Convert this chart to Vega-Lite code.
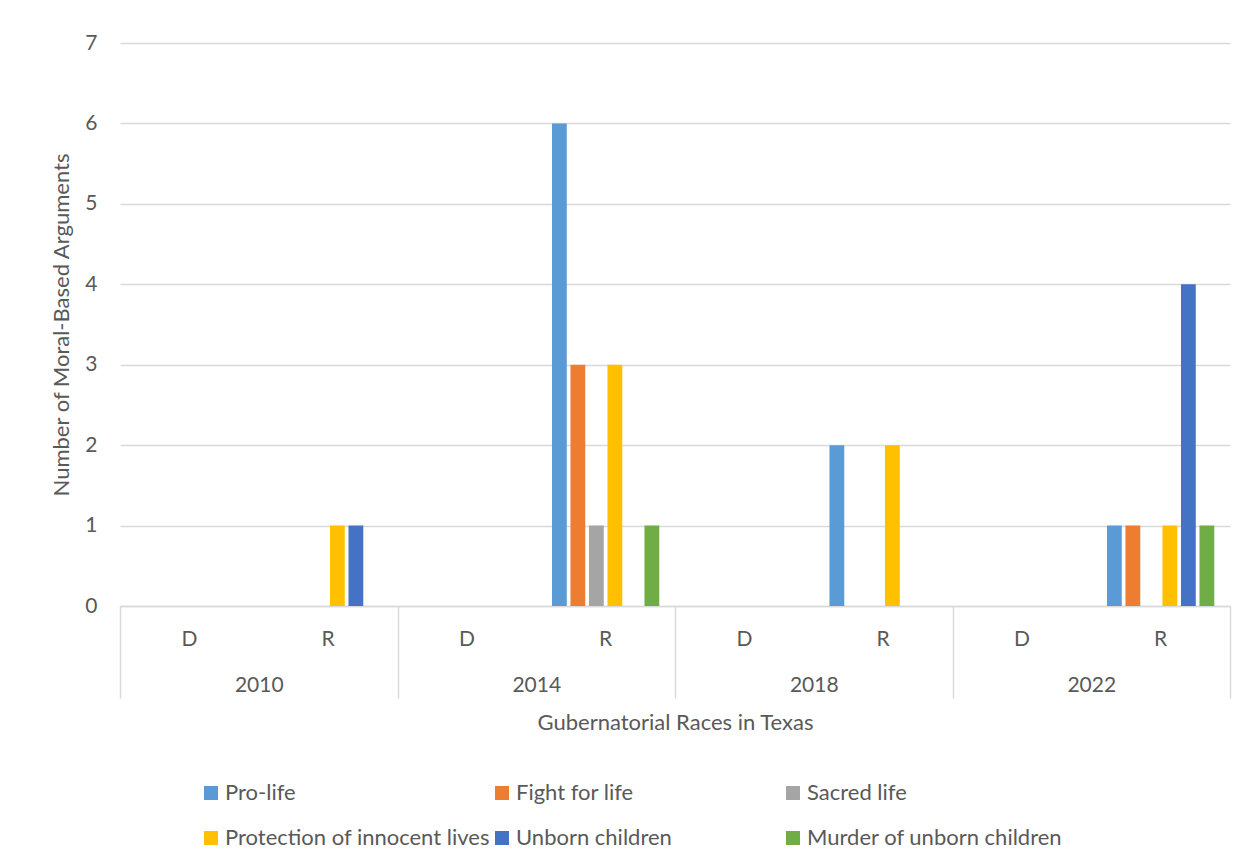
{
  "$schema": "https://vega.github.io/schema/vega-lite/v6.json",
  "autosize": {"type": "none"},
  "width": 1110,
  "height": 563,
  "padding": {"left": 120, "top": 43, "right": 19, "bottom": 257},
  "background": "white",
  "config": {
    "font": "Lato",
    "view": {"stroke": null},
    "axis": {
      "labelFont": "Lato",
      "titleFont": "Lato",
      "labelColor": "#595959",
      "titleColor": "#595959",
      "labelFontSize": 21,
      "titleFontSize": 22,
      "titleFontWeight": "normal",
      "gridColor": "#d9d9d9",
      "domainColor": "#d9d9d9",
      "tickColor": "#d9d9d9"
    },
    "legend": {
      "labelFont": "Lato",
      "labelColor": "#595959",
      "labelFontSize": 22
    }
  },
  "data": {
    "values": [
      {"year": "2010", "party": "R", "race": "2010 R", "series": "Protection of innocent lives", "count": 1},
      {"year": "2010", "party": "R", "race": "2010 R", "series": "Unborn children", "count": 1},
      {"year": "2014", "party": "R", "race": "2014 R", "series": "Pro-life", "count": 6},
      {"year": "2014", "party": "R", "race": "2014 R", "series": "Fight for life", "count": 3},
      {"year": "2014", "party": "R", "race": "2014 R", "series": "Sacred life", "count": 1},
      {"year": "2014", "party": "R", "race": "2014 R", "series": "Protection of innocent lives", "count": 3},
      {"year": "2014", "party": "R", "race": "2014 R", "series": "Murder of unborn children", "count": 1},
      {"year": "2018", "party": "R", "race": "2018 R", "series": "Pro-life", "count": 2},
      {"year": "2018", "party": "R", "race": "2018 R", "series": "Protection of innocent lives", "count": 2},
      {"year": "2022", "party": "R", "race": "2022 R", "series": "Pro-life", "count": 1},
      {"year": "2022", "party": "R", "race": "2022 R", "series": "Fight for life", "count": 1},
      {"year": "2022", "party": "R", "race": "2022 R", "series": "Protection of innocent lives", "count": 1},
      {"year": "2022", "party": "R", "race": "2022 R", "series": "Unborn children", "count": 4},
      {"year": "2022", "party": "R", "race": "2022 R", "series": "Murder of unborn children", "count": 1}
    ]
  },
  "layer": [
    {
      "mark": {"type": "bar"},
      "encoding": {
        "x": {
          "field": "race",
          "type": "nominal",
          "scale": {
            "domain": ["2010 D", "2010 R", "2014 D", "2014 R", "2018 D", "2018 R", "2022 D", "2022 R"],
            "paddingInner": 0,
            "paddingOuter": 0
          },
          "axis": {
            "orient": "bottom",
            "title": null,
            "labelAngle": 0,
            "labelExpr": "substring(datum.label, 5)",
            "ticks": false,
            "domain": true,
            "domainWidth": 1.5,
            "labelPadding": 22
          }
        },
        "xOffset": {
          "field": "series",
          "type": "nominal",
          "scale": {
            "domain": ["Pro-life", "Fight for life", "Sacred life", "Protection of innocent lives", "Unborn children", "Murder of unborn children"],
            "paddingInner": 0.2,
            "paddingOuter": 0.85
          }
        },
        "y": {
          "field": "count",
          "type": "quantitative",
          "scale": {"domain": [0, 7]},
          "axis": {
            "title": "Number of Moral-Based Arguments",
            "values": [0, 1, 2, 3, 4, 5, 6, 7],
            "domain": false,
            "ticks": false,
            "grid": true,
            "gridWidth": 1.5,
            "labelPadding": 23,
            "titlePadding": 11
          }
        },
        "color": {
          "field": "series",
          "type": "nominal",
          "scale": {
            "domain": ["Pro-life", "Fight for life", "Sacred life", "Protection of innocent lives", "Unborn children", "Murder of unborn children"],
            "range": ["#5B9BD5", "#ED7D31", "#A5A5A5", "#FFC000", "#4472C4", "#70AD47"]
          },
          "legend": {
            "title": null,
            "orient": "none",
            "legendX": 80,
            "legendY": 739,
            "direction": "horizontal",
            "columns": 3,
            "gridAlign": "all",
            "columnPadding": 1,
            "rowPadding": 23,
            "padding": 0,
            "symbolType": "square",
            "symbolSize": 196,
            "symbolStrokeWidth": 0,
            "labelOffset": 3,
            "labelLimit": 400
          }
        }
      }
    },
    {
      "mark": {"type": "tick", "opacity": 0},
      "encoding": {
        "x": {
          "field": "year",
          "type": "nominal",
          "scale": {
            "domain": ["2010", "2014", "2018", "2022"],
            "paddingInner": 0,
            "paddingOuter": 0
          },
          "axis": {
            "orient": "bottom",
            "title": "Gubernatorial Races in Texas",
            "labelAngle": 0,
            "domain": false,
            "ticks": true,
            "tickBand": "extent",
            "tickSize": 92,
            "tickWidth": 1.5,
            "labelPadding": -24,
            "titlePadding": 14
          }
        }
      }
    }
  ],
  "resolve": {"scale": {"x": "independent"}, "axis": {"x": "independent"}}
}
